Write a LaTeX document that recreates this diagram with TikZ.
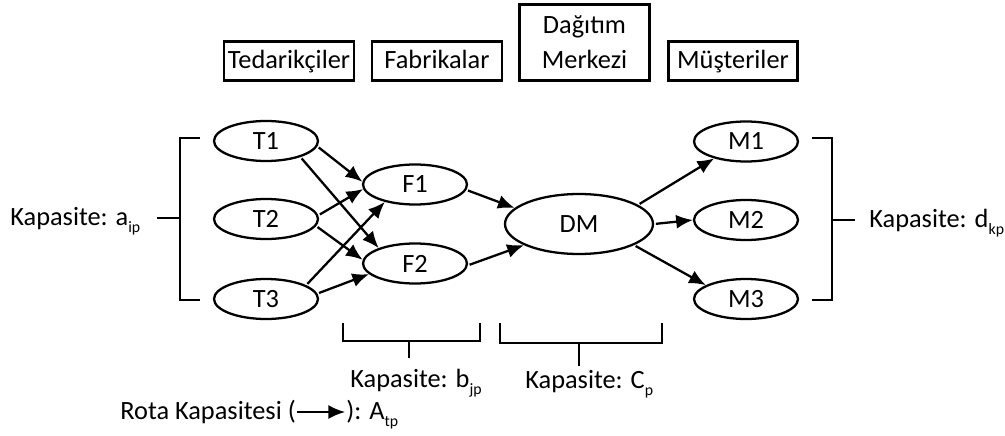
\documentclass[tikz,border=0pt]{standalone}
\usepackage{fontspec}
\setmainfont{Carlito}
\usetikzlibrary{shapes.geometric,arrows.meta,positioning}
\newcommand{\kapsub}[1]{\raisebox{-4pt}{\fontsize{9}{9}\selectfont #1}}

\begin{document}
\begin{tikzpicture}[x=0.02cm,y=-0.02cm,
  every node/.style={font=\fontsize{15}{18}\selectfont},
  baslik/.style={draw,line width=1.3pt,minimum width=2.6cm,minimum height=0.78cm,inner sep=0pt,align=center},
  tekbaslik/.style={baslik,text height=0.95em,text depth=0.15em},
  dugum/.style={draw,ellipse,line width=1.3pt,minimum width=2.08cm,minimum height=0.8cm,inner sep=0pt},
  ok/.style={-{Latex[length=9.5pt,width=8pt]},line width=1.3pt,shorten <=1pt},
  ayrac/.style={line width=1.3pt},
  etiket/.style={anchor=base west,inner sep=0pt}]
\useasboundingbox (0,0) rectangle (1005,436);

\node[tekbaslik] (tedarik) at (289,61) {Tedarikçiler};
\node[tekbaslik] (fabrika) at (437,61) {Fabrikalar};
\node[baslik,minimum height=1.52cm] (merkez) at (584.5,42.5) {Dağıtım\\[2pt]Merkezi};
\node[tekbaslik,minimum width=2.58cm] (musteri) at (733,61) {Müşteriler};

\node[dugum] (T1) at (266,141) {T1};
\node[dugum] (T2) at (266,219) {T2};
\node[dugum] (T3) at (266,299) {T3};
\node[dugum] (F1) at (415,184.5) {F1};
\node[dugum] (F2) at (415,263.5) {F2};
\node[dugum,minimum width=2.96cm,minimum height=1.2cm] (DM) at (579,224) {DM};
\node[dugum] (M1) at (746,141.5) {M1};
\node[dugum] (M2) at (746,220) {M2};
\node[dugum] (M3) at (746,299) {M3};

\draw[ok] (T1.-6) -- (F1.177);
\draw[ok] (T1.-25) -- (F2.157);
\draw[ok] (T2.4) -- (F1.185);
\draw[ok] (T2.-8) -- (F2.176);
\draw[ok] (T3.19) -- (F1.210);
\draw[ok] (T3.6) -- (F2.193);
\draw[ok] (F1.-6) -- (DM.166);
\draw[ok] (F2.-2) -- (DM.201);
\draw[ok] (DM.18) -- (M1.208);
\draw[ok] (DM.0) -- (M2.180);
\draw[ok] (DM.-21) -- (M3.161);

\draw[ayrac] (200,138) -- (180,138) -- (180,300) -- (200,300) (180,218) -- (157,218);
\draw[ayrac] (812,138) -- (832,138) -- (832,300) -- (812,300) (832,220) -- (855,220);
\draw[ayrac] (343,323) -- (343,341) -- (480,341) -- (480,323) (409,341) -- (409,358);
\draw[ayrac] (500,323) -- (500,343) -- (662,343) -- (662,323) (579,343) -- (579,366);

\node[etiket] (kapA) at (10,225) {Kapasite: a\kapsub{ip}};
\node[etiket] (kapD) at (869,227) {Kapasite: d\kapsub{kp}};
\node[etiket] (kapB) at (350,387) {Kapasite: b\kapsub{jp}};
\node[etiket] (kapC) at (525,388) {Kapasite: C\kapsub{p}};

\node[etiket] (rota) at (120,419) {Rota Kapasitesi (};
\node[etiket] (rotason) at ([xshift=1.0cm]rota.base east) {): A\kapsub{tp}};
\draw[ok,shorten <=0pt] ([shift={(1,-7)}]rota.base east) -- ([shift={(-1,-7)}]rotason.base west);
\end{tikzpicture}
\end{document}
